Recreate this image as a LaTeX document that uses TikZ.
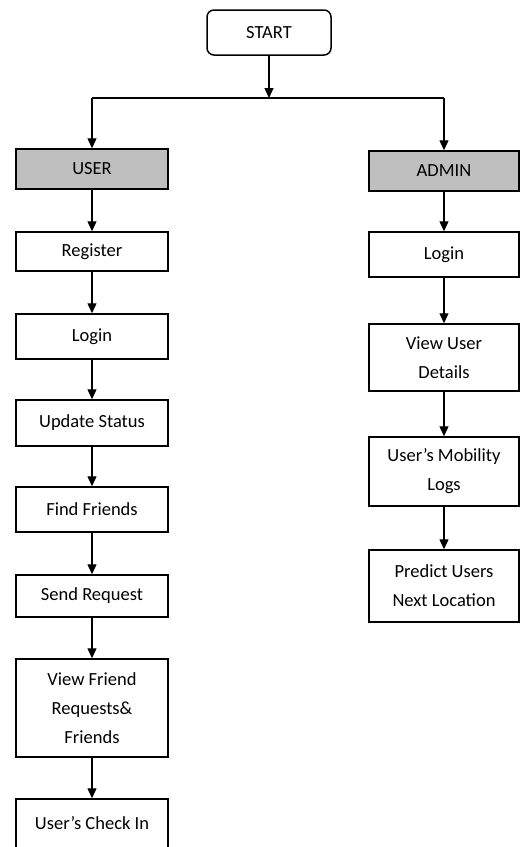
\documentclass[tikz,border=0pt]{standalone}
\usepackage{fontspec}
\setmainfont{Carlito}
\usetikzlibrary{arrows.meta}
\begin{document}
\begin{tikzpicture}[x=1pt,y=-1pt,
  box/.style={draw, line width=1.5pt, minimum width=152pt, inner sep=0pt, align=center,
    font=\fontsize{18.5}{29}\selectfont, anchor=center},
  headbox/.style={box, fill=black!25},
  arr/.style={line width=1.3pt, -{Triangle[length=10pt,width=9pt]}},
  ln/.style={line width=1.3pt}]
\clip (0,0) rectangle (520,847);
\useasboundingbox (0,0) rectangle (520,847);
% start
\node[box, rounded corners=7pt, minimum width=124pt, minimum height=45pt] (start) at (269,32.5) {START};
\coordinate (split) at (269,98);
% user column
\node[headbox, minimum height=40pt] (user) at (92,169) {USER};
\node[box, minimum height=39pt] (reg) at (92,251.5) {Register};
\node[box, minimum height=45pt] (ulogin) at (92,336.5) {Login};
\node[box, minimum height=46pt] (upd) at (92,423) {Update Status};
\node[box, minimum height=45pt] (find) at (92,509.5) {Find Friends};
\node[box, minimum height=42pt] (send) at (92,596) {Send Request};
\node[box, minimum height=98pt] (view) at (92,708) {View Friend\\Requests\&\\Friends};
\node[box, minimum height=53pt] (check) at (92,825.5) {\raisebox{6pt}{User’s Check In}};
% admin column
\node[headbox, minimum width=150pt, minimum height=40pt] (admin) at (444,171) {ADMIN};
\node[box, minimum width=150pt, minimum height=45pt] (alogin) at (444,254.5) {Login};
\node[box, minimum width=150pt, minimum height=67pt] (vud) at (444,357.5) {View User\\Details};
\node[box, minimum width=150pt, minimum height=69pt] (mob) at (444,471.5) {User’s Mobility\\Logs};
\node[box, minimum width=150pt, minimum height=72pt] (pred) at (444,586) {Predict Users\\Next Location};
% connectors
\draw[arr] (start) -- (split);
\draw[ln] (user |- split) -- (admin |- split);
\draw[arr] (user |- split) -- (user);
\draw[arr] (admin |- split) -- (admin);
\draw[arr] (user) -- (reg);
\draw[arr] (reg) -- (ulogin);
\draw[arr] (ulogin) -- (upd);
\draw[arr] (upd) -- (find);
\draw[arr] (find) -- (send);
\draw[arr] (send) -- (view);
\draw[arr] (view) -- (check);
\draw[arr] (admin) -- (alogin);
\draw[arr] (alogin) -- (vud);
\draw[arr] (vud) -- (mob);
\draw[arr] (mob) -- (pred);
\end{tikzpicture}
\end{document}
